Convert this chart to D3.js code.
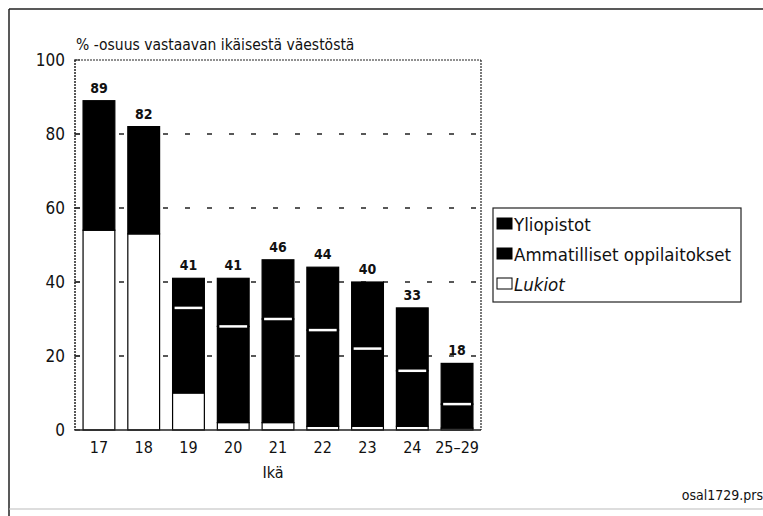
<!DOCTYPE html>
<html>
<head>
<meta charset="utf-8">
<script src="https://cdn.jsdelivr.net/npm/d3@7"></script>
<style>
  body { margin: 0; background: #fff; }
  text { fill: #111; }
  .narrow { font-family: "DejaVu Sans Condensed", "DejaVu Sans", sans-serif; font-stretch: condensed; }
</style>
</head>
<body>
<div id="chart"></div>
<script>
// Data
const ages = ["17", "18", "19", "20", "21", "22", "23", "24", "25\u201329"];
const lukiot = [54, 53, 10, 2, 2, 1, 1, 1, 0.5];
const ammatilliset = [35, 29, 23, 26, 28, 26, 21, 15, 6.5];
const yliopistot = [0, 0, 8, 13, 16, 17, 18, 17, 11];
const totals = [89, 82, 41, 41, 46, 44, 40, 33, 18];
const yTicks = [0, 20, 40, 60, 80, 100];
const gridTicks = [20, 40, 60, 80];

const width = 763, height = 516;
const plot = { left: 75, right: 481, top: 60, bottom: 430 };

const svg = d3.select("#chart").append("svg")
  .attr("width", width)
  .attr("height", height);

// scanned page frame
svg.append("line").attr("x1", 9).attr("x2", width).attr("y1", 9).attr("y2", 9)
  .attr("stroke", "#222").attr("stroke-width", 1.5);
svg.append("line").attr("x1", 9).attr("x2", 9).attr("y1", 9).attr("y2", height)
  .attr("stroke", "#222").attr("stroke-width", 1.5);
svg.append("line").attr("x1", 9).attr("x2", width).attr("y1", 509).attr("y2", 509)
  .attr("stroke", "#bbb").attr("stroke-width", 1);

const x = d3.scaleBand()
  .domain(ages)
  .range([plot.left, plot.right])
  .paddingInner(0.29)
  .paddingOuter(0.18);

const y = d3.scaleLinear()
  .domain([0, 100])
  .range([plot.bottom, plot.top]);

// dashed grid
svg.append("g")
  .selectAll("line")
  .data(gridTicks)
  .join("line")
  .attr("x1", plot.left)
  .attr("x2", plot.right)
  .attr("y1", d => y(d))
  .attr("y2", d => y(d))
  .attr("stroke", "#222")
  .attr("stroke-width", 1.3)
  .attr("stroke-dasharray", "5,17");

// plot frame: top solid, right dotted
svg.append("line").attr("x1", plot.left).attr("x2", plot.right)
  .attr("y1", y(100)).attr("y2", y(100))
  .attr("stroke", "#222").attr("stroke-width", 1.2).attr("stroke-dasharray", "2,1");
svg.append("line").attr("x1", plot.right).attr("x2", plot.right)
  .attr("y1", y(100)).attr("y2", y(0))
  .attr("stroke", "#222").attr("stroke-width", 1.2).attr("stroke-dasharray", "2,1");

// stacked data
const rows = ages.map((a, i) => ({
  age: a,
  Lukiot: lukiot[i],
  Ammatilliset: ammatilliset[i],
  Yliopistot: yliopistot[i],
  total: totals[i]
}));
const stack = d3.stack().keys(["Lukiot", "Ammatilliset", "Yliopistot"])(rows);

const fills = { Lukiot: "#fff", Ammatilliset: "#000", Yliopistot: "#000" };

svg.append("g")
  .selectAll("g")
  .data(stack)
  .join("g")
  .attr("fill", d => fills[d.key])
  .selectAll("rect")
  .data(d => d)
  .join("rect")
  .attr("x", d => x(d.data.age))
  .attr("width", x.bandwidth())
  .attr("y", d => y(d[1]))
  .attr("height", d => y(d[0]) - y(d[1]))
  .attr("stroke", "#000")
  .attr("stroke-width", 1.2);

// white separator between Ammatilliset and Yliopistot
svg.append("g")
  .selectAll("line")
  .data(stack[2].filter(d => d[1] > d[0]))
  .join("line")
  .attr("x1", d => x(d.data.age) + 2)
  .attr("x2", d => x(d.data.age) + x.bandwidth() - 2)
  .attr("y1", d => y(d[0]))
  .attr("y2", d => y(d[0]))
  .attr("stroke", "#fff")
  .attr("stroke-width", 2.5);

// value labels
svg.append("g")
  .selectAll("text")
  .data(rows)
  .join("text")
  .attr("class", "narrow")
  .attr("x", d => x(d.age) + x.bandwidth() / 2)
  .attr("y", d => y(d.total) - 8)
  .attr("text-anchor", "middle")
  .attr("font-size", 14)
  .attr("font-weight", "bold")
  .text(d => d.total);

// y axis
svg.append("line").attr("x1", plot.left).attr("x2", plot.left)
  .attr("y1", y(100)).attr("y2", y(0))
  .attr("stroke", "#222").attr("stroke-width", 1.5).attr("stroke-dasharray", "2,1");
svg.append("g")
  .selectAll("line")
  .data(yTicks)
  .join("line")
  .attr("x1", plot.left - 1)
  .attr("x2", plot.left + 5)
  .attr("y1", d => y(d))
  .attr("y2", d => y(d))
  .attr("stroke", "#222");
svg.append("g")
  .selectAll("text")
  .data(yTicks)
  .join("text")
  .attr("class", "narrow")
  .attr("x", plot.left - 10)
  .attr("y", d => y(d) + 6)
  .attr("text-anchor", "end")
  .attr("font-size", 17)
  .text(d => d);

// x axis
svg.append("line").attr("x1", plot.left).attr("x2", plot.right)
  .attr("y1", y(0)).attr("y2", y(0))
  .attr("stroke", "#222").attr("stroke-width", 1.5);
svg.append("g")
  .selectAll("text")
  .data(ages)
  .join("text")
  .attr("class", "narrow")
  .attr("x", d => x(d) + x.bandwidth() / 2)
  .attr("y", 453)
  .attr("text-anchor", "middle")
  .attr("font-size", 16)
  .text(d => d);

svg.append("text")
  .attr("class", "narrow")
  .attr("x", 273)
  .attr("y", 478)
  .attr("text-anchor", "middle")
  .attr("font-size", 16)
  .text("Ikä");

// title
svg.append("text")
  .attr("class", "narrow")
  .attr("x", 76)
  .attr("y", 50)
  .attr("font-size", 15.5)
  .text("% -osuus vastaavan ikäisestä väestöstä");

// legend
const legendItems = [
  { label: "Yliopistot", fill: "#000", italic: false },
  { label: "Ammatilliset oppilaitokset", fill: "#000", italic: false },
  { label: "Lukiot", fill: "#fff", italic: true }
];
const legend = svg.append("g").attr("transform", "translate(493,208)");
legend.append("rect")
  .attr("width", 248).attr("height", 94)
  .attr("fill", "#fff").attr("stroke", "#222").attr("stroke-width", 1.2);
const li = legend.selectAll("g")
  .data(legendItems)
  .join("g")
  .attr("transform", (d, i) => `translate(4,${18 + i * 30})`);
li.append("rect")
  .attr("y", -8).attr("width", 15).attr("height", 11)
  .attr("fill", d => d.fill).attr("stroke", "#000").attr("stroke-width", 1);
li.append("text")
  .attr("class", "narrow")
  .attr("x", 17)
  .attr("y", 5)
  .attr("font-size", 18.5)
  .attr("font-style", d => d.italic ? "italic" : "normal")
  .text(d => d.label);

// footer
svg.append("text")
  .attr("class", "narrow")
  .attr("x", 763)
  .attr("y", 500)
  .attr("text-anchor", "end")
  .attr("font-size", 14)
  .text("osal1729.prs");
</script>
</body>
</html>
